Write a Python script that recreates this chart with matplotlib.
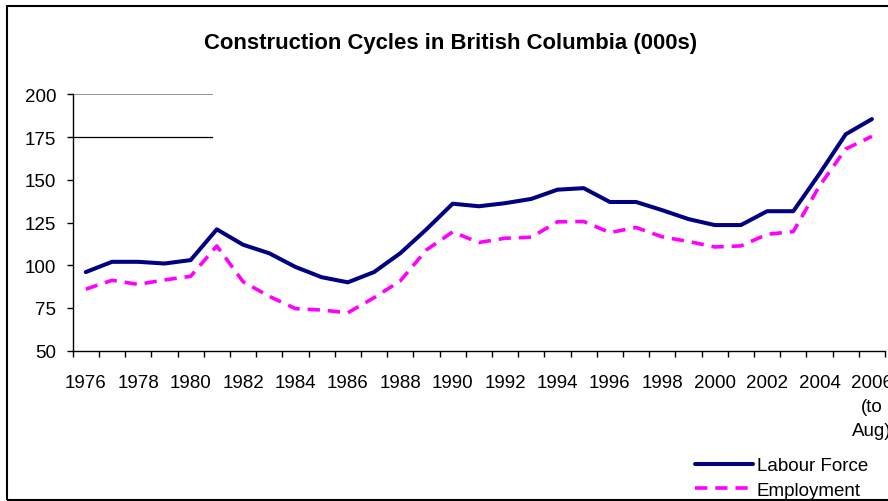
import matplotlib
matplotlib.use("Agg")
import matplotlib.pyplot as plt
from matplotlib.patches import Rectangle
import numpy as np

plt.rcParams['font.family'] = ['Liberation Sans', 'DejaVu Sans']

years = list(range(1976, 2007))
labour_force = [96, 102, 102, 101, 103, 121, 112, 107, 99, 93, 90, 96, 107, 121, 136,
                134.5, 136.3, 138.8, 144.2, 145.1, 137, 137, 132.2, 127, 123.5, 123.5,
                131.6, 131.6, 153.5, 176.6, 185.5]
employment = [86, 91.2, 88.8, 91.4, 93.5, 111.3, 90.4, 81.8, 74.6, 73.8, 72.2, 81, 90.8, 109, 119.5,
              113.3, 115.8, 116.4, 125.4, 125.6, 119.1, 122.1, 116.6, 113.9, 110.7, 111.3,
              118.1, 119.7, 146.4, 168, 175.4]
year_labels = [str(y) if y != 2006 else "2006\n(to\nAug)" for y in years]
yticks = [50, 75, 100, 125, 150, 175, 200]

W, H = 888, 502
fig = plt.figure(figsize=(W / 100, H / 100), dpi=100)
fig.patch.set_facecolor('white')

# outer chart border (cropped on the right)
fig.patches.append(Rectangle((6.5 / W, 1 - 501 / H), 2.0, (501 - 6.5) / H,
                             transform=fig.transFigure, fill=False,
                             edgecolor='black', linewidth=1.5, zorder=0))

ax = fig.add_axes([72.7 / W, 1 - 351.7 / H, (885 - 72.7) / W, (351.7 - 95.3) / H])
x = np.arange(len(years))

ax.plot(x, labour_force, color='#000080', linewidth=2.9, solid_capstyle='round',
        solid_joinstyle='round', label='Labour Force', zorder=3)
ax.plot(x, employment, color='#FF00FF', linewidth=2.6, linestyle=(0, (3.4, 2.2)),
        label='Employment', zorder=2)

ax.set_xlim(-0.5, len(years) - 0.5)
ax.set_ylim(50, 200)

# partial gridlines (as in reference)
gx = (212 - 72.7) / (885 - 72.7)
ax.axhline(200, xmin=0, xmax=gx, color='#808080', linewidth=1.2, zorder=1)
ax.axhline(175, xmin=0, xmax=gx, color='black', linewidth=0.9, zorder=1)

for s in ['top', 'right']:
    ax.spines[s].set_visible(False)
for s in ['left', 'bottom']:
    ax.spines[s].set_color('black')
    ax.spines[s].set_linewidth(1.0)

ax.set_yticks(yticks)
ax.set_yticklabels([str(v) for v in yticks])
ax.tick_params(axis='y', direction='out', length=4, width=1.0, pad=8, labelsize=13.5)

ax.set_xticks(np.arange(-0.5, len(years) + 0.5, 1.0))
ax.set_xticklabels([])
ax.tick_params(axis='x', which='major', direction='out', length=4, width=1.0)
ax.set_xticks(x[::2], minor=True)
ax.set_xticklabels(year_labels[::2], minor=True, linespacing=1.55)
ax.tick_params(axis='x', which='minor', length=0, pad=16.5, labelsize=13.5)

fig.text(451 / W, 1 - 43 / H, 'Construction Cycles in British Columbia (000s)',
         ha='center', va='center', fontsize=15.9, fontweight='bold')

leg = ax.legend(loc='upper left', bbox_to_anchor=(695 / W, 1 - 458 / H),
                bbox_transform=fig.transFigure, frameon=False, fontsize=13.5,
                handlelength=3.1, handletextpad=0.2, labelspacing=0.4,
                borderpad=0, borderaxespad=0)

fig.savefig('out.png', dpi=100, facecolor='white')
